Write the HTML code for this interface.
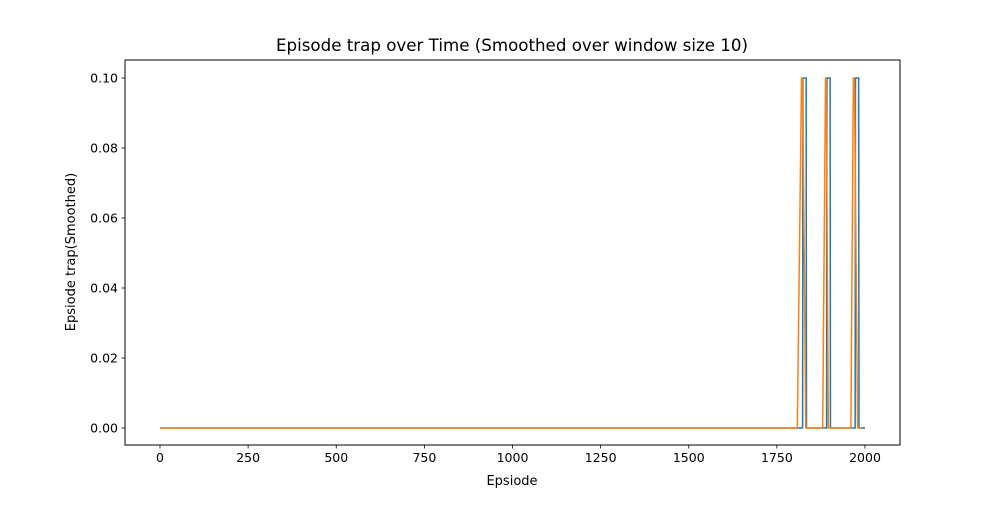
<!DOCTYPE html>
<html><head><meta charset="utf-8"><style>
body{margin:0;background:#fff;font-family:"Liberation Sans","DejaVu Sans",sans-serif}
svg text{font-family:"DejaVu Sans","Liberation Sans",sans-serif;fill:#000}
</style></head><body>
<svg id="chart" width="1000" height="500" xmlns="http://www.w3.org/2000/svg">
<rect width="1000" height="500" fill="#fff"/>
<g id="plot"></g>
<text x="512" y="51" font-size="16.6" text-anchor="middle" textLength="472" lengthAdjust="spacingAndGlyphs">Episode trap over Time (Smoothed over window size 10)</text>
<text x="512" y="485" font-size="13" text-anchor="middle">Epsiode</text>
<text x="75" y="252" font-size="13" text-anchor="middle" transform="rotate(-90 75 252)">Epsiode trap(Smoothed)</text>
</svg>
<script>
const xTicks=[0,250,500,750,1000,1250,1500,1750,2000];
const yTicks=[0,0.02,0.04,0.06,0.08,0.10];
const yTickLabels=["0.00","0.02","0.04","0.06","0.08","0.10"];
const blueX=[0,1823,1824,1833,1834,1891,1892,1901,1902,1972,1973,1982,1983,2000];
const blueY=[0,0,0.1,0.1,0,0,0.1,0.1,0,0,0.1,0.1,0,0];
const orangeX=[0,1808,1820,1823,1832,1880,1888,1890,1896,1960,1967,1970,1979,1991];
const orangeY=[0,0,0.1,0.1,0,0,0.1,0.1,0,0,0.1,0.1,0,0];
const L=125,R=900,T=60,B=445;
const sx=v=>160+v*(865-160)/2000;
const sy=v=>428-v*(428-78)/0.1;
const NS="http://www.w3.org/2000/svg";
const g=document.getElementById('plot');
function mk(tag,attrs){const e=document.createElementNS(NS,tag);for(const k in attrs)e.setAttribute(k,attrs[k]);g.appendChild(e);return e;}
function line(xs,ys,color,name){
  const p=mk('polyline',{points:xs.map((x,i)=>sx(x)+','+sy(ys[i])).join(' '),fill:'none',stroke:color,'stroke-width':1.5,'stroke-linejoin':'round'});
  
  
}
line(blueX,blueY,'#1f77b4','series-blue');
line(orangeX,orangeY,'#ff7f0e','series-orange');
const fr=mk('rect',{x:L,y:T,width:R-L,height:B-T,fill:'none',stroke:'#000','stroke-width':1});


xTicks.forEach(v=>{
  const x=sx(v);
  const t=mk('line',{x1:x,x2:x,y1:B,y2:B+3.5,stroke:'#000','stroke-width':0.8});
  
  
  const l=mk('text',{x:x,y:B+17,'font-size':12.5,'text-anchor':'middle'});
  l.textContent=v;
  
  
});
yTicks.forEach((v,i)=>{
  const y=sy(v);
  const t=mk('line',{x1:L-3.5,x2:L,y1:y,y2:y,stroke:'#000','stroke-width':0.8});
  
  
  const l=mk('text',{x:L-7,y:y+4.5,'font-size':12.5,'text-anchor':'end'});
  l.textContent=yTickLabels[i];
  
  
});
</script>
</body></html>
